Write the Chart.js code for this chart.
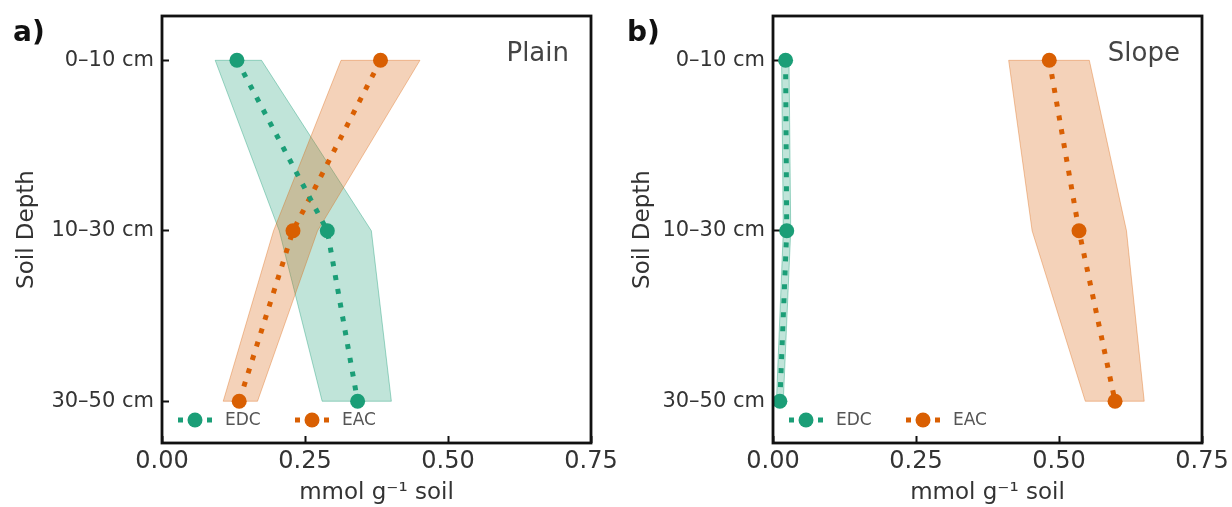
<!DOCTYPE html>
<html>
<head>
<meta charset="utf-8">
<script src="https://cdn.jsdelivr.net/npm/chart.js@4.4.1/dist/chart.umd.min.js"></script>
<style>
  html, body { margin: 0; padding: 0; background: #fff; }
  #wrap { position: relative; width: 1232px; height: 507px; }
  .panel { position: absolute; top: 0; width: 616px; height: 507px; }
</style>
</head>
<body>
<div id="wrap">
  <div class="panel" style="left:0"><canvas id="plainChart" width="616" height="507"></canvas></div>
  <div class="panel" style="left:616px"><canvas id="slopeChart" width="616" height="507"></canvas></div>
</div>
<script>
// Depth classes and x ticks
const depthLabels = ['0–10 cm', '10–30 cm', '30–50 cm'];
const xTicks = [0, 0.25, 0.5, 0.75];
const seriesNames = ['EDC', 'EAC'];

// Plain (panel a)
const plainEdc = [0.131, 0.289, 0.342];
const plainEdcLow = [0.093, 0.205, 0.280];
const plainEdcHigh = [0.174, 0.366, 0.401];
const plainEac = [0.382, 0.229, 0.135];
const plainEacLow = [0.313, 0.195, 0.107];
const plainEacHigh = [0.451, 0.272, 0.167];

// Slope (panel b)
const slopeEdc = [0.022, 0.024, 0.012];
const slopeEdcLow = [0.015, 0.018, 0.006];
const slopeEdcHigh = [0.028, 0.031, 0.018];
const slopeEac = [0.483, 0.535, 0.598];
const slopeEacLow = [0.412, 0.453, 0.546];
const slopeEacHigh = [0.553, 0.618, 0.649];

const GREEN = '#1b9e77';
const ORANGE = '#d95f02';
const colors = [GREEN, ORANGE];

Chart.defaults.font.family = '"DejaVu Sans"';

// mean profile points
function profile(values) {
    return values.map((v, i) => ({ x: v, y: i }));
}

// closed polygon: low bound top->bottom, high bound bottom->top
function bandPoints(low, high) {
    const pts = low.map((v, i) => ({ x: v, y: i }));
    for (let i = high.length - 1; i >= 0; i--) pts.push({ x: high[i], y: i });
    pts.push({ x: low[0], y: 0 });
    return pts;
}

// Frame, panel letter, panel name and the legend inside the axes
const panelDecor = {
    id: 'panelDecor',
    afterDraw(chart, args, opts) {
        const { ctx, chartArea: a } = chart;
        ctx.save();

        ctx.lineWidth = 2.8;
        ctx.strokeStyle = '#111';
        ctx.strokeRect(a.left, a.top, a.right - a.left, a.bottom - a.top);

        ctx.fillStyle = '#111';
        ctx.font = 'bold 28px "DejaVu Sans"';
        ctx.textAlign = 'left';
        ctx.textBaseline = 'alphabetic';
        ctx.fillText(opts.letter, opts.letterX, 41);

        ctx.fillStyle = '#444';
        ctx.font = '26px "DejaVu Sans"';
        ctx.textAlign = 'right';
        ctx.fillText(opts.name, a.right - 22, 61);

        // legend
        const ly = a.bottom - 23;
        const offsets = [33, 150];
        seriesNames.forEach((name, i) => {
            const cx = a.left + offsets[i];
            ctx.strokeStyle = colors[i];
            ctx.lineWidth = 5;
            ctx.lineCap = 'butt';
            ctx.setLineDash([5, 9.5]);
            ctx.beginPath();
            ctx.moveTo(cx - 17, ly);
            ctx.lineTo(cx + 17, ly);
            ctx.stroke();
            ctx.setLineDash([]);
            ctx.fillStyle = colors[i];
            ctx.beginPath();
            ctx.arc(cx, ly, 7.5, 0, Math.PI * 2);
            ctx.fill();

            ctx.fillStyle = '#555';
            ctx.font = '17px "DejaVu Sans"';
            ctx.textAlign = 'left';
            ctx.textBaseline = 'middle';
            ctx.fillText(name, cx + 30, ly + 1);
        });
        ctx.restore();
    }
};

function makeChart(id, letter, name, edc, edcLow, edcHigh, eac, eacLow, eacHigh, yWidth, rightPad) {
    const lineDataset = (label, values, color, order) => ({
        label: label,
        data: profile(values),
        showLine: true,
        borderColor: color,
        borderWidth: 5,
        borderDash: [5, 9],
        borderCapStyle: 'butt',
        pointRadius: 7.5,
        pointBackgroundColor: color,
        pointBorderWidth: 0,
        fill: false,
        order: order
    });
    const bandDataset = (label, low, high, fillColor, edgeColor, order) => ({
        label: label,
        data: bandPoints(low, high),
        showLine: true,
        fill: 'shape',
        backgroundColor: fillColor,
        borderColor: edgeColor,
        borderWidth: 1,
        pointRadius: 0,
        tension: 0,
        order: order
    });

    return new Chart(document.getElementById(id), {
        type: 'scatter',
        data: {
            datasets: [
                lineDataset('EDC', edc, GREEN, 1),
                lineDataset('EAC', eac, ORANGE, 2),
                bandDataset('EAC range', eacLow, eacHigh, 'rgba(217, 95, 2, 0.28)', 'rgba(217, 95, 2, 0.35)', 3),
                bandDataset('EDC range', edcLow, edcHigh, 'rgba(27, 158, 119, 0.28)', 'rgba(27, 158, 119, 0.4)', 4)
            ]
        },
        options: {
            responsive: false,
            animation: false,
            events: [],
            layout: { padding: { left: 0, right: rightPad, top: 16, bottom: 0 } },
            plugins: {
                legend: { display: false },
                tooltip: { enabled: false },
                panelDecor: { letter: letter, name: name, letterX: id === 'plainChart' ? 13 : 11 }
            },
            scales: {
                x: {
                    type: 'linear',
                    min: 0,
                    max: 0.75,
                    afterBuildTicks: (s) => { s.ticks = xTicks.map(v => ({ value: v })); },
                    afterFit: (s) => { s.height = 64; s.paddingLeft = 0; s.paddingRight = 0; },
                    ticks: {
                        callback: (v) => Number(v).toFixed(2),
                        font: { size: 24 },
                        color: '#333',
                        padding: 11,
                        maxRotation: 0,
                        autoSkip: false
                    },
                    grid: { drawOnChartArea: false, tickLength: -7, tickWidth: 2, tickColor: '#111' },
                    border: { display: false },
                    title: {
                        display: true,
                        text: 'mmol g⁻¹ soil',
                        font: { size: 23 },
                        color: '#333',
                        padding: { top: 0, bottom: 0 }
                    }
                },
                y: {
                    type: 'linear',
                    min: -0.26,
                    max: 2.245,
                    reverse: true,
                    afterBuildTicks: (s) => { s.ticks = depthLabels.map((_, i) => ({ value: i })); },
                    afterFit: (s) => { s.width = yWidth; s.paddingTop = 0; s.paddingBottom = 0; },
                    ticks: {
                        callback: (v) => depthLabels[v],
                        font: { size: 21 },
                        color: '#333',
                        padding: 15,
                        autoSkip: false
                    },
                    grid: { drawOnChartArea: false, tickLength: -7, tickWidth: 2, tickColor: '#111' },
                    border: { display: false },
                    title: {
                        display: true,
                        text: 'Soil Depth',
                        font: { size: 23 },
                        color: '#333',
                        padding: { top: 13, bottom: 0 }
                    }
                }
            }
        },
        plugins: [panelDecor]
    });
}

makeChart('plainChart', 'a)', 'Plain', plainEdc, plainEdcLow, plainEdcHigh, plainEac, plainEacLow, plainEacHigh, 162, 25);
makeChart('slopeChart', 'b)', 'Slope', slopeEdc, slopeEdcLow, slopeEdcHigh, slopeEac, slopeEacLow, slopeEacHigh, 157, 30);
</script>
</body>
</html>
